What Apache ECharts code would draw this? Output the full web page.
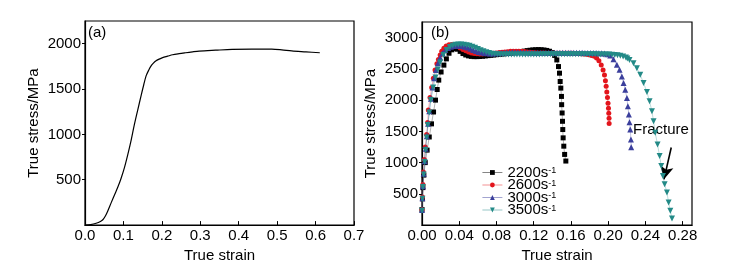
<!DOCTYPE html>
<html>
<head>
<meta charset="utf-8">
<script src="https://cdn.jsdelivr.net/npm/echarts@6/dist/echarts.min.js"></script>
<style>
  html, body { margin: 0; padding: 0; background: #fff; }
  #chart { width: 736px; height: 268px; }
</style>
</head>
<body>
<div id="chart"></div>
<script>
// (a) quasi-static curve: [strain, stress]
const quasiStatic = [
  [0.000, 0], [0.015, 5], [0.029, 20], [0.040, 40], [0.047, 62], [0.053, 100], [0.059, 153],
  [0.068, 245], [0.077, 335], [0.086, 425], [0.094, 517], [0.103, 640], [0.111, 772],
  [0.120, 935], [0.128, 1099], [0.137, 1265], [0.146, 1427], [0.153, 1550], [0.159, 1645],
  [0.166, 1710], [0.172, 1755], [0.178, 1785], [0.184, 1809], [0.193, 1830], [0.202, 1846],
  [0.215, 1862], [0.228, 1878], [0.245, 1890], [0.262, 1900], [0.280, 1910], [0.297, 1918],
  [0.340, 1928], [0.383, 1937], [0.434, 1940], [0.486, 1940], [0.512, 1932], [0.538, 1920],
  [0.575, 1910], [0.611, 1900]
];

// (b) dynamic curves at four strain rates: [strain, stress]
const rate2200 = [
  [0.000, 250], [0.0005, 420], [0.001, 600], [0.002, 800], [0.0035, 1000], [0.0055, 1200],
  [0.0078, 1410], [0.0102, 1620], [0.0124, 1810], [0.0145, 2000], [0.0163, 2170], [0.018, 2320],
  [0.0205, 2450], [0.0235, 2560], [0.0262, 2660], [0.029, 2750], [0.032, 2805], [0.035, 2825],
  [0.038, 2815], [0.041, 2780], [0.044, 2745], [0.047, 2722], [0.050, 2708], [0.053, 2700],
  [0.056, 2696], [0.059, 2696], [0.062, 2698], [0.065, 2702], [0.068, 2707], [0.071, 2712],
  [0.074, 2717], [0.077, 2722], [0.080, 2727], [0.083, 2732], [0.086, 2737], [0.089, 2742],
  [0.092, 2747], [0.095, 2752], [0.098, 2757], [0.101, 2762], [0.104, 2768], [0.107, 2776],
  [0.110, 2784], [0.113, 2792], [0.116, 2798], [0.119, 2803], [0.122, 2806], [0.125, 2808],
  [0.128, 2806], [0.131, 2802], [0.134, 2795], [0.137, 2782], [0.140, 2760], [0.1425, 2715],
  [0.1448, 2643], [0.1466, 2537], [0.1477, 2431], [0.1484, 2298], [0.1491, 2192], [0.1498, 2059],
  [0.1500, 1927], [0.1505, 1794], [0.1509, 1661], [0.1512, 1529], [0.1516, 1396], [0.1523, 1263],
  [0.1532, 1131], [0.1545, 1025]
];

const rate2600 = [
  [0.000, 250], [0.0005, 450], [0.001, 650], [0.0015, 850], [0.0025, 1050], [0.0035, 1250],
  [0.005, 1450], [0.006, 1640], [0.0068, 1840], [0.0086, 2040], [0.0104, 2200], [0.0122, 2350],
  [0.014, 2480], [0.016, 2580], [0.0176, 2650], [0.0195, 2720], [0.0212, 2780], [0.0235, 2830],
  [0.026, 2865], [0.029, 2885], [0.032, 2890], [0.035, 2880], [0.038, 2860], [0.041, 2835],
  [0.044, 2810], [0.047, 2790], [0.050, 2770], [0.053, 2755], [0.056, 2745], [0.059, 2740],
  [0.062, 2738], [0.065, 2738], [0.068, 2740], [0.071, 2742], [0.074, 2745], [0.077, 2750],
  [0.080, 2755], [0.083, 2760], [0.086, 2765], [0.089, 2770], [0.092, 2775], [0.095, 2780],
  [0.098, 2782], [0.101, 2783], [0.104, 2782], [0.107, 2780], [0.110, 2776], [0.113, 2770],
  [0.116, 2765], [0.119, 2760], [0.122, 2757], [0.125, 2755], [0.128, 2753], [0.131, 2752],
  [0.134, 2751], [0.137, 2750], [0.140, 2750], [0.143, 2750], [0.146, 2750], [0.149, 2750],
  [0.152, 2750], [0.155, 2750], [0.158, 2749], [0.161, 2748], [0.164, 2747], [0.167, 2745],
  [0.170, 2742], [0.173, 2738], [0.176, 2732], [0.179, 2725], [0.182, 2715], [0.185, 2700],
  [0.1875, 2675], [0.190, 2630], [0.1925, 2560], [0.1945, 2480], [0.196, 2400], [0.197, 2310],
  [0.1978, 2220], [0.1985, 2130], [0.1992, 2040], [0.1998, 1950], [0.2003, 1870], [0.2006, 1790],
  [0.2009, 1710], [0.2010, 1625]
];

const rate3000 = [
  [0.000, 240], [0.0005, 430], [0.001, 620], [0.0018, 820], [0.0028, 1020], [0.004, 1220],
  [0.0052, 1420], [0.0065, 1620], [0.0078, 1820], [0.0095, 2020], [0.0113, 2200], [0.013, 2350],
  [0.015, 2480], [0.0172, 2590], [0.0195, 2680], [0.022, 2750], [0.025, 2800], [0.028, 2835],
  [0.031, 2855], [0.034, 2865], [0.037, 2870], [0.040, 2870], [0.043, 2865], [0.046, 2855],
  [0.049, 2840], [0.052, 2820], [0.055, 2800], [0.058, 2785], [0.061, 2770], [0.064, 2760],
  [0.067, 2752], [0.070, 2748], [0.073, 2746], [0.076, 2746], [0.079, 2748], [0.082, 2750],
  [0.085, 2753], [0.088, 2756], [0.091, 2760], [0.094, 2763], [0.097, 2765], [0.100, 2766],
  [0.103, 2766], [0.106, 2765], [0.109, 2763], [0.112, 2761], [0.115, 2760], [0.118, 2759],
  [0.121, 2758], [0.124, 2758], [0.127, 2758], [0.130, 2758], [0.133, 2758], [0.136, 2758],
  [0.139, 2758], [0.142, 2758], [0.145, 2758], [0.148, 2758], [0.151, 2758], [0.154, 2758],
  [0.157, 2758], [0.160, 2758], [0.163, 2757], [0.166, 2757], [0.169, 2756], [0.172, 2756],
  [0.175, 2755], [0.178, 2755], [0.181, 2754], [0.184, 2753], [0.187, 2752], [0.190, 2750],
  [0.193, 2748], [0.196, 2744], [0.199, 2735], [0.2022, 2715], [0.2057, 2654], [0.2093, 2564],
  [0.2122, 2484], [0.2147, 2378], [0.2165, 2272], [0.2183, 2166], [0.2201, 2033], [0.2211, 1900],
  [0.2222, 1768], [0.2229, 1645], [0.2237, 1529], [0.2244, 1369], [0.2247, 1247]
];

const rate3500 = [
  [0.000, 230], [0.0005, 420], [0.001, 610], [0.0018, 810], [0.0028, 1010], [0.0038, 1200],
  [0.005, 1400], [0.0062, 1600], [0.0078, 1800], [0.0095, 2000], [0.012, 2200], [0.0145, 2360],
  [0.017, 2490], [0.0195, 2600], [0.0229, 2720], [0.0265, 2800], [0.030, 2850], [0.033, 2875],
  [0.036, 2885], [0.039, 2888], [0.042, 2888], [0.045, 2885], [0.048, 2878], [0.051, 2868],
  [0.054, 2855], [0.057, 2838], [0.060, 2818], [0.063, 2798], [0.066, 2780], [0.069, 2765],
  [0.072, 2752], [0.075, 2743], [0.078, 2737], [0.081, 2733], [0.084, 2730], [0.087, 2729],
  [0.090, 2728], [0.093, 2728], [0.096, 2728], [0.099, 2728], [0.102, 2728], [0.105, 2729],
  [0.108, 2729], [0.111, 2730], [0.114, 2730], [0.117, 2730], [0.120, 2731], [0.123, 2731],
  [0.126, 2731], [0.129, 2732], [0.132, 2732], [0.135, 2732], [0.138, 2732], [0.141, 2732],
  [0.144, 2733], [0.147, 2733], [0.150, 2733], [0.153, 2733], [0.156, 2733], [0.159, 2733],
  [0.162, 2733], [0.165, 2733], [0.168, 2733], [0.171, 2733], [0.174, 2733], [0.177, 2733],
  [0.180, 2733], [0.183, 2732], [0.186, 2732], [0.189, 2731], [0.192, 2731], [0.195, 2730],
  [0.198, 2729], [0.201, 2728], [0.204, 2726], [0.207, 2722], [0.210, 2716], [0.213, 2708],
  [0.216, 2696], [0.219, 2680], [0.2205, 2665], [0.2229, 2643], [0.2272, 2590], [0.2308, 2511],
  [0.2344, 2404], [0.238, 2272], [0.2416, 2129], [0.2444, 1980], [0.247, 1820], [0.2487, 1661],
  [0.2505, 1476], [0.253, 1290], [0.2552, 1104], [0.257, 944], [0.2588, 785], [0.2606, 653],
  [0.2631, 520], [0.2649, 361], [0.2667, 228], [0.2685, 106]
];

const rateNames = ['2200', '2600', '3000', '3500'];
const rateColors = ['#000000', '#e3151c', '#3b3f9c', '#238a87'];
// fracture arrow, from tail to head: [strain, stress]
const fractureArrow = [[0.2677, 1242], [0.2599, 732]];

const chart = echarts.init(document.getElementById('chart'));
const font = 'Liberation Sans, Arial, sans-serif';
const txt = { color: '#000', fontFamily: font, fontSize: 15 };

function valueAxis(idx, min, max, interval, digits, name, gap, vertical) {
  return {
    type: 'value',
    gridIndex: idx,
    min: min,
    max: max,
    interval: interval,
    name: name,
    nameLocation: 'middle',
    nameGap: gap,
    nameTextStyle: txt,
    axisLine: { show: true, onZero: false, lineStyle: { color: '#000', width: 1.2 } },
    axisTick: { show: true, inside: !vertical, length: vertical ? 3 : 4, lineStyle: { color: '#000' } },
    axisLabel: {
      ...txt,
      margin: vertical ? 4 : 3,
      showMinLabel: !vertical,
      showMaxLabel: vertical ? false : (max === 0.7),
      formatter: v => digits == null ? String(v) : v.toFixed(digits)
    },
    splitLine: { show: false }
  };
}

const symbols = ['rect', 'circle', 'triangle', 'triangle'];
const symbolSizes = [5, 5, 6, 6];
const dynData = [rate2200, rate2600, rate3000, rate3500];

const dynSeries = rateNames.map((name, i) => ({
  name: name,
  type: 'line',
  xAxisIndex: 1,
  yAxisIndex: 1,
  data: dynData[i],
  symbol: symbols[i],
  symbolSize: symbolSizes[i],
  symbolRotate: i === 3 ? 180 : 0,
  showAllSymbol: true,
  color: rateColors[i],
  itemStyle: { color: rateColors[i] },
  lineStyle: { width: 0.6, color: rateColors[i], opacity: 0.5 },
  animation: false,
  z: 2 + i
}));

dynSeries[3].markLine = {
  silent: true,
  symbol: ['none', 'arrow'],
  symbolSize: [10, 13],
  label: { show: false },
  lineStyle: { color: '#000', width: 1.6, type: 'solid' },
  data: [[{ coord: fractureArrow[0] }, { coord: fractureArrow[1] }]]
};

const option = {
  animation: false,
  backgroundColor: '#fff',
  textStyle: { fontFamily: font },
  grid: [
    { left: 85, right: 382, top: 21, bottom: 41, show: true, borderColor: '#000', borderWidth: 1.2 },
    { left: 422, right: 44, top: 22, bottom: 42, show: true, borderColor: '#000', borderWidth: 1.2 }
  ],
  xAxis: [
    valueAxis(0, 0, 0.7, 0.1, 1, 'True strain', 20, false),
    valueAxis(1, 0, 0.29, 0.04, 2, 'True strain', 20, false)
  ],
  yAxis: [
    valueAxis(0, 0, 2250, 500, null, 'True stress/MPa', 44, true),
    valueAxis(1, 0, 3250, 500, null, 'True stress/MPa', 44, true)
  ],
  legend: {
    data: rateNames,
    orient: 'vertical',
    left: 482,
    top: 165,
    padding: 0,
    itemGap: -2.5,
    itemWidth: 20,
    itemHeight: 6,
    lineStyle: { width: 0.8, opacity: 0.6 },
    formatter: name => '{n|' + name + 's}{s|-1}',
    textStyle: {
      ...txt,
      rich: {
        n: { fontFamily: font, fontSize: 15, lineHeight: 12, color: '#000' },
        s: { fontFamily: font, fontSize: 9, lineHeight: 12, verticalAlign: 'top', color: '#000' }
      }
    }
  },
  graphic: [
    { type: 'text', left: 88, top: 25, style: { text: '(a)', fill: '#000', font: '15px ' + font } },
    { type: 'text', left: 431, top: 25, style: { text: '(b)', fill: '#000', font: '15px ' + font } },
    { type: 'text', left: 633, top: 122, style: { text: 'Fracture', fill: '#000', font: '15px ' + font } }
  ],
  series: [
    {
      name: 'quasi',
      type: 'line',
      xAxisIndex: 0,
      yAxisIndex: 0,
      data: quasiStatic,
      showSymbol: false,
      smooth: 0.3,
      lineStyle: { color: '#000', width: 1.2 },
      animation: false
    },
    ...dynSeries
  ]
};

chart.setOption(option);
</script>
</body>
</html>
